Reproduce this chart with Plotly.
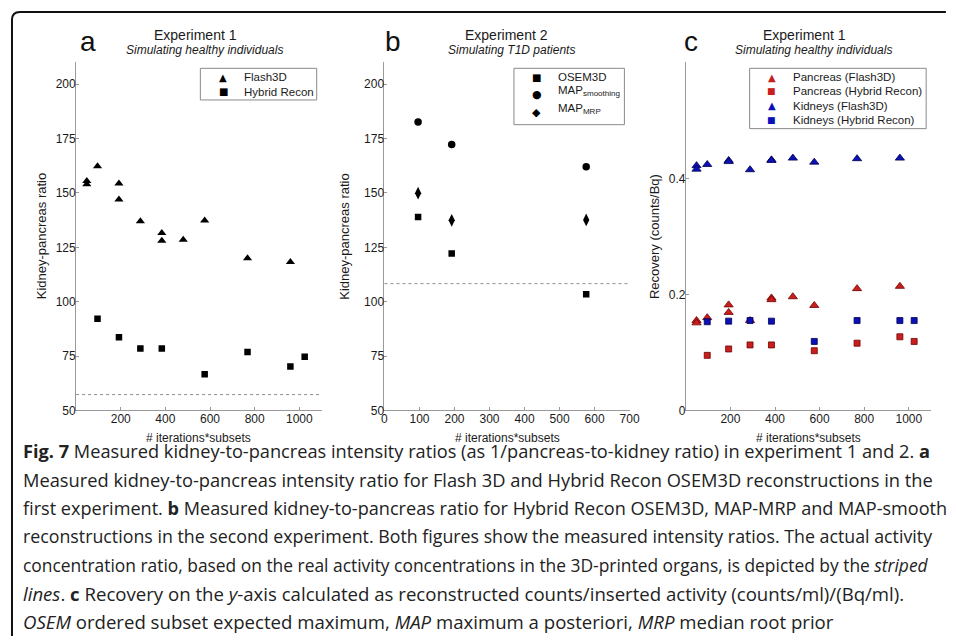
import plotly.graph_objects as go

# ---------------- data ----------------
# Panel a: Experiment 1 kidney-pancreas ratio
a_flash_x = [48, 48, 96, 192, 192, 288, 384, 384, 480, 576, 768, 960]
a_flash_y = [154, 155.5, 162.3, 154.3, 147, 137, 131.6, 128, 128.5, 137.3, 120, 118.2]
a_hybrid_x = [96, 192, 288, 384, 576, 768, 960, 1024]
a_hybrid_y = [92.2, 83.7, 78.5, 78.5, 66.7, 76.9, 70.2, 74.7]
a_actual_ratio = 57.3

# Panel b: Experiment 2 kidney-pancreas ratio
b_x = [96, 192, 576]
b_osem = [138.9, 122.2, 103.4]
b_map_smooth = [182.6, 172.2, 162.0]
b_map_mrp = [149.9, 137.4, 137.6]
b_actual_ratio = 108.3

# Panel c: Experiment 1 recovery
c_flash_x = [48, 48, 96, 192, 192, 288, 384, 384, 480, 576, 768, 960]
c_pan_flash = [0.155, 0.151, 0.160, 0.182, 0.169, 0.155, 0.194, 0.191, 0.196, 0.181, 0.210, 0.214]
c_kid_flash = [0.422, 0.416, 0.424, 0.431, 0.429, 0.415, 0.432, 0.431, 0.435, 0.428, 0.434, 0.435]
c_hybrid_x = [96, 192, 288, 384, 576, 768, 960, 1024]
c_pan_hybrid = [0.095, 0.106, 0.113, 0.113, 0.103, 0.116, 0.127, 0.119]
c_kid_hybrid = [0.153, 0.154, 0.155, 0.154, 0.119, 0.155, 0.155, 0.155]

ratio_ticks = [50, 75, 100, 125, 150, 175, 200]
iter_ticks = [200, 400, 600, 800, 1000]
b_iter_ticks = [0, 100, 200, 300, 400, 500, 600, 700]
recovery_ticks = [0, 0.2, 0.4]
recovery_ticklabels = ["0", "0.2", "0.4"]

legend_a = ["Flash3D", "Hybrid Recon"]
legend_b = ["OSEM3D", "MAP<sub>smoothing</sub>", "MAP<sub>MRP</sub>"]
legend_c = ["Pancreas (Flash3D)", "Pancreas (Hybrid Recon)", "Kidneys (Flash3D)", "Kidneys (Hybrid Recon)"]

caption_lines = [
    "<b>Fig. 7</b> Measured kidney-to-pancreas intensity ratios (as 1/pancreas-to-kidney ratio) in experiment 1 and 2. <b>a</b>",
    "Measured kidney-to-pancreas intensity ratio for Flash 3D and Hybrid Recon OSEM3D reconstructions in the",
    "first experiment. <b>b</b> Measured kidney-to-pancreas ratio for Hybrid Recon OSEM3D, MAP-MRP and MAP-smooth",
    "reconstructions in the second experiment. Both figures show the measured intensity ratios. The actual activity",
    "concentration ratio, based on the real activity concentrations in the 3D-printed organs, is depicted by the <i>striped</i>",
    "<i>lines</i>. <b>c</b> Recovery on the <i>y</i>-axis calculated as reconstructed counts/inserted activity (counts/ml)/(Bq/ml).",
    "<i>OSEM</i> ordered subset expected maximum, <i>MAP</i> maximum a posteriori, <i>MRP</i> median root prior",
]
# per-line font size so each (justified) caption line spans the reference width
caption_sizes = [18.2, 18.3, 18.1, 17.8, 17.4, 18.6, 18.6]

# ---------------- layout helpers ----------------
# page body has an 8px margin, so the figure is 940x628 placed at (8, 8)
OFF = 8
W, H = 956 - 2 * OFF, 644 - 2 * OFF
def px(x):
    return (x - OFF) / W
def py(y):
    return 1 - (y - OFF) / H

FONT = "Arial, Liberation Sans, sans-serif"
TXT = "#1a1a1a"
AX = "#9a9a9a"
RED = "#c81e1e"
RED_E = "#6e0000"
BLUE = "#0c10b8"
BLUE_E = "#00004a"

fig = go.Figure()

# Panel a
fig.add_trace(go.Scatter(x=a_flash_x, y=a_flash_y, mode="markers", name=legend_a[0],
                         marker=dict(symbol="triangle-up", size=8, color="black"),
                         xaxis="x", yaxis="y"))
fig.add_trace(go.Scatter(x=a_hybrid_x, y=a_hybrid_y, mode="markers", name=legend_a[1],
                         marker=dict(symbol="square", size=6.5, color="black"),
                         xaxis="x", yaxis="y"))
# Panel b
fig.add_trace(go.Scatter(x=b_x, y=b_osem, mode="markers", name=legend_b[0],
                         marker=dict(symbol="square", size=6.5, color="black"),
                         xaxis="x2", yaxis="y2"))
fig.add_trace(go.Scatter(x=b_x, y=b_map_smooth, mode="markers", name=legend_b[1],
                         marker=dict(symbol="circle", size=7.5, color="black"),
                         xaxis="x2", yaxis="y2"))
fig.add_trace(go.Scatter(x=b_x, y=b_map_mrp, mode="markers", name=legend_b[2],
                         marker=dict(symbol="diamond-tall", size=9, color="black"),
                         xaxis="x2", yaxis="y2"))
# Panel c
fig.add_trace(go.Scatter(x=c_flash_x, y=c_pan_flash, mode="markers", name=legend_c[0],
                         marker=dict(symbol="triangle-up", size=8, color=RED, line=dict(color=RED_E, width=0.8)),
                         xaxis="x3", yaxis="y3"))
fig.add_trace(go.Scatter(x=c_hybrid_x, y=c_pan_hybrid, mode="markers", name=legend_c[1],
                         marker=dict(symbol="square", size=6, color=RED, line=dict(color=RED_E, width=0.8)),
                         xaxis="x3", yaxis="y3"))
fig.add_trace(go.Scatter(x=c_flash_x, y=c_kid_flash, mode="markers", name=legend_c[2],
                         marker=dict(symbol="triangle-up", size=8, color=BLUE, line=dict(color=BLUE_E, width=0.8)),
                         xaxis="x3", yaxis="y3"))
fig.add_trace(go.Scatter(x=c_hybrid_x, y=c_kid_hybrid, mode="markers", name=legend_c[3],
                         marker=dict(symbol="square", size=6, color=BLUE, line=dict(color=BLUE_E, width=0.8)),
                         xaxis="x3", yaxis="y3"))

ydom = [py(415), py(63)]
common_axis = dict(showline=True, linecolor=AX, linewidth=1, showgrid=False, zeroline=False,
                   ticks="inside", ticklen=3, tickcolor=AX, tickwidth=1, ticklabelstandoff=-3,
                   tickfont=dict(family=FONT, size=12, color=TXT), mirror=False)

fig.update_layout(
    width=W, height=H,
    margin=dict(l=0, r=0, t=0, b=0),
    paper_bgcolor="white", plot_bgcolor="white",
    font=dict(family=FONT, color=TXT),
    xaxis=dict(domain=[px(74), px(323)], range=[0, 1100], tickvals=iter_ticks, anchor="y", **common_axis),
    yaxis=dict(domain=ydom, range=[50, 210], tickvals=ratio_ticks, anchor="x", **common_axis),
    xaxis2=dict(domain=[px(386.7), px(635.3)], range=[0, 700], tickvals=b_iter_ticks, anchor="y2", **common_axis),
    yaxis2=dict(domain=ydom, range=[50, 210], tickvals=ratio_ticks, anchor="x2", **common_axis),
    xaxis3=dict(domain=[px(692.3), px(941)], range=[0, 1100], tickvals=iter_ticks, anchor="y3", **common_axis),
    yaxis3=dict(domain=ydom, range=[0, 0.6], tickvals=recovery_ticks, ticktext=recovery_ticklabels,
                anchor="x3", **common_axis),
    showlegend=False,
)

# actual activity concentration ratio lines (dotted)
for xr, yr, val in [("x domain", "y", a_actual_ratio), ("x2 domain", "y2", b_actual_ratio)]:
    fig.add_shape(type="line", xref=xr, yref=yr, x0=0, x1=1, y0=val, y1=val,
                  line=dict(color="#8c8c8c", width=1, dash="dot"), layer="below")

# figure frame (rounded top-left corner)
frame_path = (f"M {px(9)},{py(644)} L {px(9)},{py(20)} Q {px(9)},{py(12)} {px(17)},{py(12)} "
              f"L {px(956)},{py(12)}")
fig.add_shape(type="path", xref="paper", yref="paper", path=frame_path,
              line=dict(color="#111111", width=2))

ann = []
# panel headings
for letter, lx, title, tx, sub, sx in [
    ("a", 86, "Experiment 1", 194.7, "Simulating healthy individuals", 204.5),
    ("b", 395.7, "Experiment 2", 510.3, "Simulating T1D patients", 515.8),
    ("c", 698, "Experiment 1", 812.7, "Simulating healthy individuals", 822),
]:
    ann.append(dict(text=letter, x=px(lx), y=py(42), font=dict(family=FONT, size=28, color="#111")))
    ann.append(dict(text=title, x=px(tx), y=py(35), font=dict(family=FONT, size=14, color=TXT)))
    ann.append(dict(text=f"<i>{sub}</i>", x=px(sx), y=py(50), font=dict(family=FONT, size=12, color=TXT)))

# axis titles
for xt, yt_x, ytitle in [(198.5, 39.3, "Kidney-pancreas ratio"),
                         (511, 346, "Kidney-pancreas ratio"),
                         (816.6, 660.7, "Recovery (counts/Bq)")]:
    ann.append(dict(text="# iterations*subsets", x=px(xt), y=py(443), font=dict(family=FONT, size=12, color=TXT)))
    ann.append(dict(text=ytitle, x=px(yt_x), y=py(239), textangle=-90, font=dict(family=FONT, size=13, color=TXT)))

for a in ann:
    a.update(xref="paper", yref="paper", showarrow=False, xanchor="center", yanchor="middle")

# legends (boxes + symbol glyphs + labels)
LEGFONT = dict(family=FONT, size=11.5, color=TXT)
legend_specs = [
    # box (x0, y0, x1, y1), symbol x, text x, rows: (y, glyph, glyph colour, glyph size, label)
    ((200, 69, 318, 101), 223.3, 242.7,
     [(78, "▲", "black", 10, legend_a[0]), (92.7, "■", "black", 10, legend_a[1])]),
    ((518, 69, 630, 126), 541, 561,
     [(78, "■", "black", 10, legend_b[0]), (95, "●", "black", 11, legend_b[1]),
      (113.3, "◆", "black", 11, legend_b[2])]),
    ((757, 69, 936, 130), 779.3, 799.3,
     [(78, "▲", RED, 10, legend_c[0]), (92.3, "■", RED, 9, legend_c[1]),
      (106.7, "▲", BLUE, 10, legend_c[2]), (121, "■", BLUE, 9, legend_c[3])]),
]
for (bx0, by0, bx1, by1), sxp, txp, rows in legend_specs:
    fig.add_shape(type="rect", xref="paper", yref="paper", x0=px(bx0), x1=px(bx1), y0=py(by1), y1=py(by0),
                  line=dict(color="#8a8a8a", width=1), fillcolor="white", layer="above")
    for ry, glyph, gcol, gsize, label in rows:
        ann.append(dict(text=glyph, xref="paper", yref="paper", x=px(sxp), y=py(ry), showarrow=False,
                        xanchor="center", yanchor="middle",
                        font=dict(family="DejaVu Sans", size=gsize, color=gcol)))
        text_y = ry - 3 if "<sub>" in label else ry
        ann.append(dict(text=label, xref="paper", yref="paper", x=px(txp), y=py(text_y), showarrow=False,
                        xanchor="left", yanchor="middle", font=LEGFONT))

# caption
for i, (line, fs) in enumerate(zip(caption_lines, caption_sizes)):
    ann.append(dict(text=line, xref="paper", yref="paper", x=px(18), y=py(456 + i * 28.8),
                    xanchor="left", yanchor="middle", showarrow=False, align="left",
                    font=dict(family="Open Sans, sans-serif", size=fs, color="#222")))

fig.update_layout(annotations=ann)

fig.write_html("out.html")
